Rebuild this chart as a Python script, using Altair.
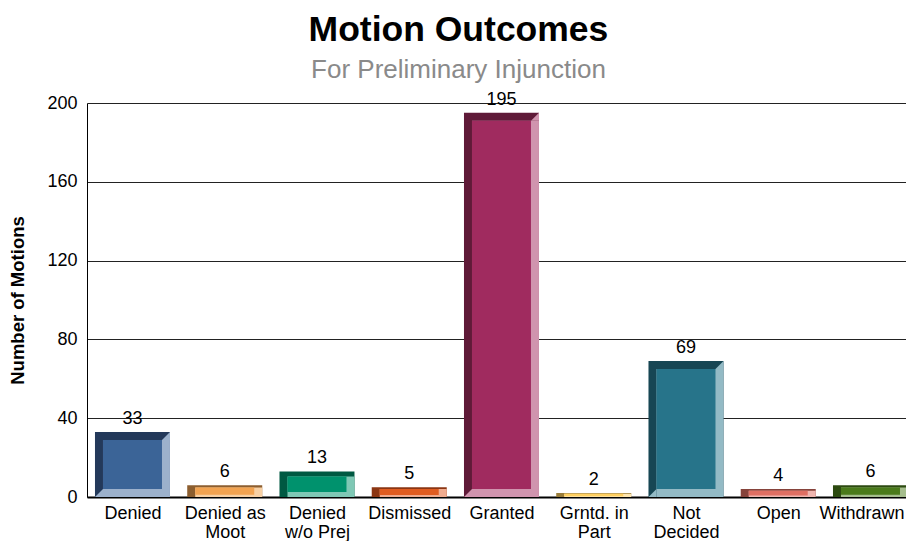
import json
import altair as alt
import pandas as pd

categories = ["Denied", "Denied as Moot", "Denied w/o Prej", "Dismissed", "Granted",
              "Grntd. in Part", "Not Decided", "Open", "Withdrawn"]
label_lines = [["Denied"], ["Denied as", "Moot"], ["Denied", "w/o Prej"], ["Dismissed"],
               ["Granted"], ["Grntd. in", "Part"], ["Not", "Decided"], ["Open"], ["Withdrawn"]]
counts = [33, 6, 13, 5, 195, 2, 69, 4, 6]
face_colors = ["#3b6497", "#f2a351", "#00926d", "#e05c20", "#a02b5f",
               "#fecf60", "#27748a", "#df6f63", "#4a7a1a"]
dark_colors = ["#23395a", "#8c5e2f", "#005942", "#8b3613", "#5f1a38",
               "#9a7d3a", "#174654", "#86433b", "#2c4a10"]
light_colors = ["#9cb1cc", "#f7d0a4", "#7fc8b5", "#f0ac8f", "#d094ae",
                "#fee6af", "#93bac5", "#efb6b0", "#a5bd8d"]
y_ticks = [0, 40, 80, 120, 160, 200]

df = pd.DataFrame({
    "cat": categories,
    "idx": list(range(len(categories))),
    "value": counts,
    "face": face_colors,
    "dark": dark_colors,
    "light": light_colors,
})

W, H = 819, 394
HALF = 0.4065
BEV = 4.06
LAST = len(categories) - 1

xscale = alt.Scale(domain=[-0.493, 8.385], nice=False, zero=False)
yscale = alt.Scale(domain=[0, 200], nice=False)

base = alt.Chart(df).transform_calculate(
    x0=f"datum.idx - {HALF}",
    x1=f"datum.idx + {HALF}",
    zero="0",
    bev=f"min({BEV}, datum.value * 0.2)",
).transform_calculate(
    top="datum.value - datum.bev",
    half_bev="datum.bev / 2",
    top_half="datum.value - datum.bev / 2",
)

xaxis = alt.Axis(
    values=list(range(len(categories))),
    labelExpr=json.dumps(label_lines) + "[datum.value]",
    title=None, ticks=False, grid=False,
    domain=True, domainColor="#000", domainWidth=2,
    labelFontSize=18, labelPadding=21, labelLineHeight=19,
    labelBaseline="alphabetic",
    labelOffset=alt.condition(f"datum.value == {LAST}", alt.value(-9), alt.value(0)),
    labelOverlap=False, labelFlush=False, labelColor="#000",
)
yaxis = alt.Axis(
    values=y_ticks, title="Number of Motions", ticks=False,
    grid=True, gridColor="#222", gridWidth=1,
    domain=True, domainColor="#000", domainWidth=1,
    labelFontSize=18, labelPadding=10, labelColor="#000",
    titleFontSize=18.5, titleFontWeight="bold", titleColor="#000", titlePadding=19,
)


def X(field):
    return alt.X(field, scale=xscale, axis=xaxis, title=None)


def Y(field):
    return alt.Y(field, scale=yscale, axis=yaxis, title="Number of Motions")


dark = base.mark_rect(strokeWidth=0).encode(
    x=X("x0:Q"), x2="x1:Q",
    y=Y("value:Q"), y2="zero:Q",
    color=alt.Color("dark:N", scale=None),
)

light = base.mark_rect(strokeWidth=0, xOffset=8).encode(
    x=X("x0:Q"), x2="x1:Q",
    y=Y("top:Q"), y2="zero:Q",
    color=alt.Color("light:N", scale=None),
)

tri = "M 1 -1 L 1 1 L -1 1 Z"
corner_tr = base.transform_filter("datum.value >= 16").mark_point(
    shape=tri, filled=True, size=64, xOffset=-4, opacity=1, strokeWidth=0
).encode(
    x=X("x1:Q"), y=Y("top_half:Q"),
    color=alt.Color("light:N", scale=None),
)
corner_bl = base.transform_filter("datum.value >= 16").mark_point(
    shape=tri, filled=True, size=64, xOffset=4, opacity=1, strokeWidth=0
).encode(
    x=X("x0:Q"), y=Y("half_bev:Q"),
    color=alt.Color("light:N", scale=None),
)

face = base.mark_rect(strokeWidth=0, xOffset=8, x2Offset=-8).encode(
    x=X("x0:Q"), x2="x1:Q",
    y=Y("top:Q"), y2="bev:Q",
    color=alt.Color("face:N", scale=None),
)

labels = base.mark_text(dy=-13, fontSize=18, color="#000").encode(
    x=X("idx:Q"), y=Y("value:Q"),
    text="value:Q",
)

chart = alt.layer(dark, light, corner_tr, corner_bl, face, labels).properties(
    width=W, height=H,
    autosize=alt.AutoSizeParams(type="none"),
    padding={"left": 79, "top": 95, "right": 0, "bottom": 44},
    title=alt.TitleParams(
        "Motion Outcomes",
        subtitle="For Preliminary Injunction",
        fontSize=35.5, fontWeight="bold", color="#000",
        subtitleFontSize=26, subtitleColor="#8a8a8a", subtitlePadding=8,
        anchor="middle", frame="bounds", offset=8,
    ),
).configure(
    font="Liberation Sans",
).configure_view(stroke=None)

chart.save("out.html", embed_options={"renderer": "svg", "actions": False})
